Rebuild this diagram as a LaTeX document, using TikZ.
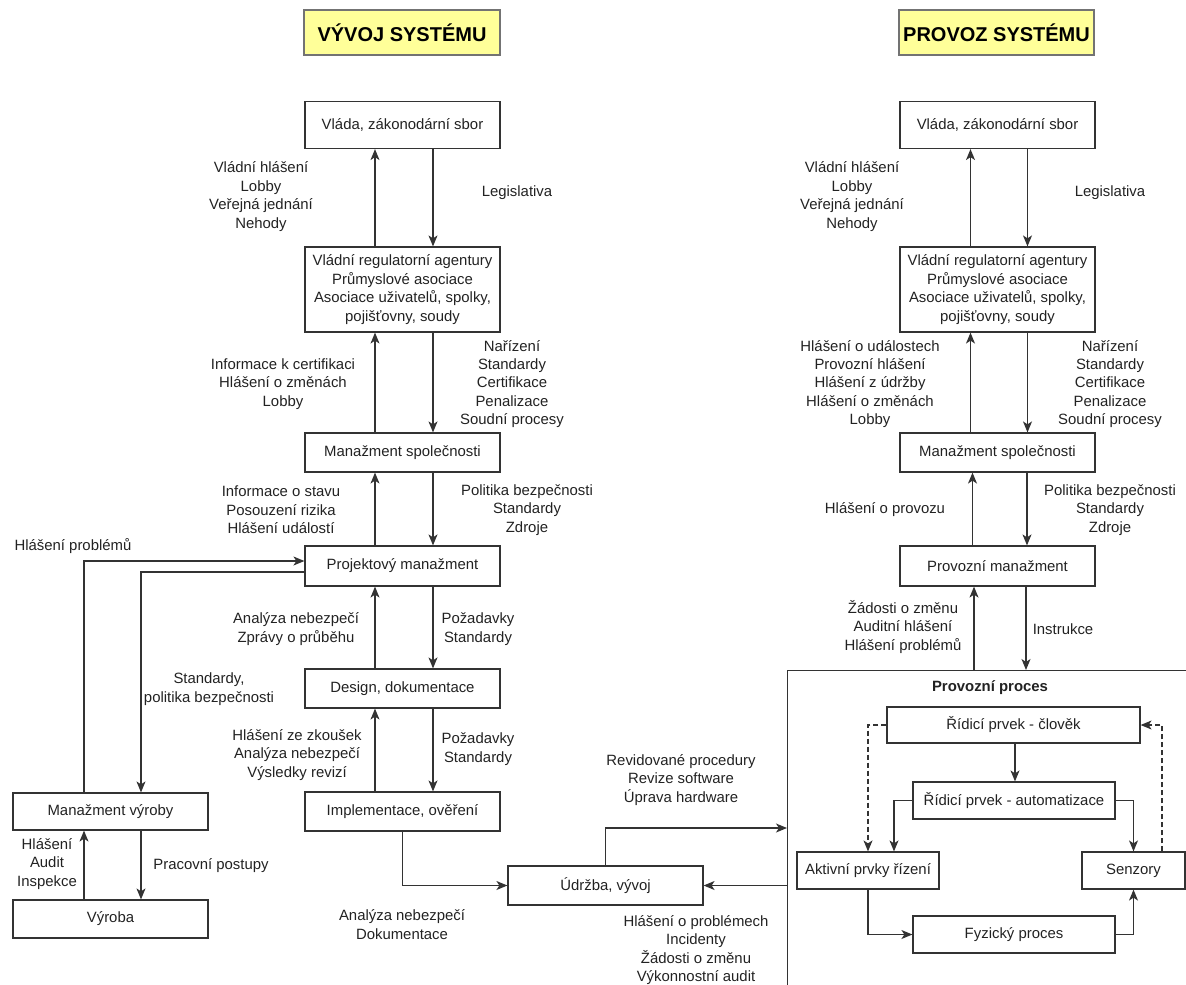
\documentclass[tikz,border=0pt]{standalone}
\usepackage{fontspec}
\setmainfont{Liberation Sans}
\usetikzlibrary{arrows.meta}
\definecolor{titlefill}{HTML}{FFFF99}
\definecolor{ink}{HTML}{222222}
\definecolor{edge}{HTML}{333333}
\begin{document}
\begin{tikzpicture}[x=1pt,y=-1pt,
  txt/.style={font=\fontsize{14.9}{18.4}\selectfont, text=ink, align=center, inner sep=0pt},
  box/.style={txt, draw=edge, line width=1.2pt, minimum width=195pt, minimum height=39pt},
  title/.style={draw=black!55, line width=1.2pt, fill=titlefill, minimum width=196pt, minimum height=45pt,
    font=\fontsize{20}{24}\selectfont\bfseries, text=black},
  lbl/.style={txt},
  arr/.style={draw=edge, line width=1.2pt, -{Stealth[length=11pt,width=9pt,inset=3pt]}},
  darr/.style={arr, dashed, dash pattern=on 5pt off 3pt}]
\clip (0,0) rectangle (1186,985);

% headings
\node[title] (t1) at (402,32.5) {VÝVOJ SYSTÉMU};
\node[title, minimum width=195pt] (t2) at (996.5,32.5) {PROVOZ SYSTÉMU};

% ---- system development column ----
\node[box, minimum height=47pt] (gov1) at (402.5,125) {Vláda, zákonodární sbor};
\node[box, minimum height=85pt] (reg1) at (402.5,289.5) {Vládní regulatorní agentury\\Průmyslové asociace\\Asociace uživatelů, spolky,\\pojišťovny, soudy};
\node[box] (mgmt1) at (402.5,452.5) {Manažment společnosti};
\node[box, minimum height=40pt] (proj1) at (402.5,566) {Projektový manažment};
\node[box] (des1) at (402.5,688.5) {Design, dokumentace};
\node[box] (impl1) at (402.5,811.5) {Implementace, ověření};
\node[box, minimum height=37pt] (mvyr) at (110.5,811.5) {Manažment výroby};
\node[box, minimum height=38pt] (vyr) at (110.5,919) {Výroba};
\node[box] (udr) at (605.5,885.5) {Údržba, vývoj};

% ---- system operation column ----
\node[box, minimum height=47pt] (gov2) at (997.5,125) {Vláda, zákonodární sbor};
\node[box, minimum height=85pt] (reg2) at (997.5,289.5) {Vládní regulatorní agentury\\Průmyslové asociace\\Asociace uživatelů, spolky,\\pojišťovny, soudy};
\node[box] (mgmt2) at (997.5,452.5) {Manažment společnosti};
\node[box, minimum height=40pt] (prov2) at (997.5,566) {Provozní manažment};

% operating process frame (runs off the page to the right and bottom)
\node[draw=edge, line width=1.2pt, anchor=north west, minimum width=460pt, minimum height=400pt, inner sep=0pt] (proc) at (787,670) {};
\node[txt, font=\fontsize{14.9}{18.4}\selectfont\bfseries] (proct) at (990,688) {Provozní proces};
\node[box, minimum width=253pt, minimum height=36pt] (clovek) at (1013.5,725) {Řídicí prvek - člověk};
\node[box, minimum width=202pt, minimum height=37pt] (auto) at (1014,800.5) {Řídicí prvek - automatizace};
\node[box, minimum width=142pt, minimum height=37pt] (akt) at (868,870.5) {Aktivní prvky řízení};
\node[box, minimum width=103pt, minimum height=37pt] (senz) at (1133.5,870.5) {Senzory};
\node[box, minimum width=202pt, minimum height=37pt] (fyz) at (1014,934.5) {Fyzický proces};

% ---- connectors, development column ----
\draw[arr] ([xshift=-27.5pt]reg1.north) -- ([xshift=-27.5pt]gov1.south);
\draw[arr] ([xshift=30.5pt]gov1.south) -- ([xshift=30.5pt]reg1.north);
\draw[arr] ([xshift=-27.5pt]mgmt1.north) -- ([xshift=-27.5pt]reg1.south);
\draw[arr] ([xshift=30.5pt]reg1.south) -- ([xshift=30.5pt]mgmt1.north);
\draw[arr] ([xshift=-27.5pt]proj1.north) -- ([xshift=-27.5pt]mgmt1.south);
\draw[arr] ([xshift=30.5pt]mgmt1.south) -- ([xshift=30.5pt]proj1.north);
\draw[arr] ([xshift=-27.5pt]des1.north) -- ([xshift=-27.5pt]proj1.south);
\draw[arr] ([xshift=30.5pt]proj1.south) -- ([xshift=30.5pt]des1.north);
\draw[arr] ([xshift=-27.5pt]impl1.north) -- ([xshift=-27.5pt]des1.south);
\draw[arr] ([xshift=30.5pt]des1.south) -- ([xshift=30.5pt]impl1.north);
\draw[arr] ([xshift=-26.5pt]mvyr.north) |- ([yshift=5pt]proj1.west);
\draw[arr] ([yshift=-6pt]proj1.west) -| ([xshift=30.5pt]mvyr.north);
\draw[arr] ([xshift=-26.5pt]vyr.north) -- ([xshift=-26.5pt]mvyr.south);
\draw[arr] ([xshift=30.5pt]mvyr.south) -- ([xshift=30.5pt]vyr.north);
\draw[arr] (impl1.south) |- (udr.west);
\coordinate (procin) at (787,828);
\draw[arr] (udr.north) |- (procin);
\draw[arr] (udr.east -| proc.west) -- (udr.east);

% ---- connectors, operation column ----
\draw[arr] ([xshift=-27pt]reg2.north) -- ([xshift=-27pt]gov2.south);
\draw[arr] ([xshift=30pt]gov2.south) -- ([xshift=30pt]reg2.north);
\draw[arr] ([xshift=-27pt]mgmt2.north) -- ([xshift=-27pt]reg2.south);
\draw[arr] ([xshift=30pt]reg2.south) -- ([xshift=30pt]mgmt2.north);
\draw[arr] ([xshift=-25pt]prov2.north) -- ([xshift=-25pt]mgmt2.south);
\draw[arr] ([xshift=29.5pt]mgmt2.south) -- ([xshift=29.5pt]prov2.north);
\draw[arr] ([xshift=-23.5pt]prov2.south |- proc.north) -- ([xshift=-23.5pt]prov2.south);
\draw[arr] ([xshift=28.5pt]prov2.south) -- ([xshift=28.5pt]prov2.south |- proc.north);

% ---- connectors inside the operating process ----
\draw[arr] ([xshift=1.5pt]clovek.south) -- ([xshift=1pt]auto.north);
\draw[arr] (auto.west) -| ([xshift=26pt]akt.north);
\draw[darr] (clovek.west) -| (akt.north);
\draw[arr] (auto.east) -| (senz.north);
\draw[darr] ([xshift=28.5pt]senz.north) |- (clovek.east);
\draw[arr] (akt.south) |- (fyz.west);
\draw[arr] (fyz.east) -| (senz.south);

% ---- labels, development column ----
\node[lbl] (l1) at (261,196.5) {Vládní hlášení\\Lobby\\Veřejná jednání\\Nehody};
\node[lbl] (l2) at (517,193) {Legislativa};
\node[lbl] (l3) at (283,384) {Informace k certifikaci\\Hlášení o změnách\\Lobby};
\node[lbl] (l4) at (512,384) {Nařízení\\Standardy\\Certifikace\\Penalizace\\Soudní procesy};
\node[lbl] (l5) at (281,510) {Informace o stavu\\Posouzení rizika\\Hlášení událostí};
\node[lbl] (l6) at (527,510) {Politika bezpečnosti\\Standardy\\Zdroje};
\node[lbl] (l7) at (296,629) {Analýza nebezpečí\\Zprávy o průběhu};
\node[lbl] (l8) at (478,629) {Požadavky\\Standardy};
\node[lbl] (l9) at (209,689) {Standardy,\\politika bezpečnosti};
\node[lbl] (l10) at (297,755) {Hlášení ze zkoušek\\Analýza nebezpečí\\Výsledky revizí};
\node[lbl] (l11) at (478,749) {Požadavky\\Standardy};
\node[lbl] (l12) at (73,546) {Hlášení problémů};
\node[lbl] (l13) at (47,864) {Hlášení\\Audit\\Inspekce};
\node[lbl] (l14) at (211,866) {Pracovní postupy};
\node[lbl] (l15) at (402,924.5) {Analýza nebezpečí\\Dokumentace};
\node[lbl] (l16) at (681,780) {Revidované procedury\\Revize software\\Úprava hardware};
\node[lbl] (l17) at (696,950) {Hlášení o problémech\\Incidenty\\Žádosti o změnu\\Výkonnostní audit};

% ---- labels, operation column ----
\node[lbl] (r1) at (852,196.5) {Vládní hlášení\\Lobby\\Veřejná jednání\\Nehody};
\node[lbl] (r2) at (1110,193) {Legislativa};
\node[lbl] (r3) at (870,384) {Hlášení o událostech\\Provozní hlášení\\Hlášení z údržby\\Hlášení o změnách\\Lobby};
\node[lbl] (r4) at (1110,384) {Nařízení\\Standardy\\Certifikace\\Penalizace\\Soudní procesy};
\node[lbl] (r5) at (885,510) {Hlášení o provozu};
\node[lbl] (r6) at (1110,510) {Politika bezpečnosti\\Standardy\\Zdroje};
\node[lbl] (r7) at (903,627) {Žádosti o změnu\\Auditní hlášení\\Hlášení problémů};
\node[lbl] (r8) at (1063,629) {Instrukce};
\end{tikzpicture}
\end{document}
